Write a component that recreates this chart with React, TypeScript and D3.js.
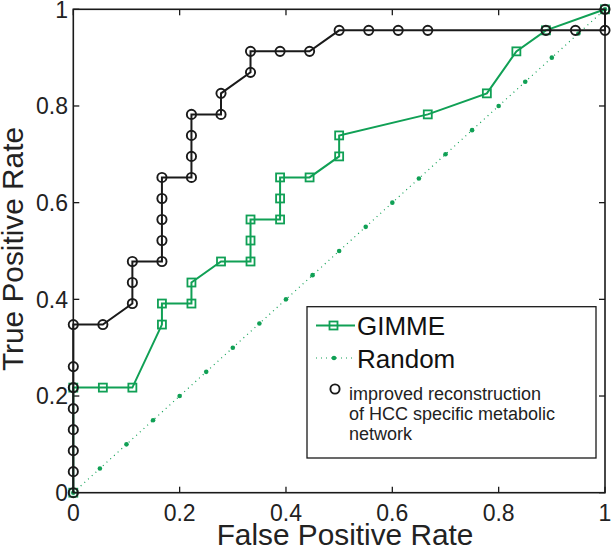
import React from "react";
import * as d3 from "d3";

// ---- Data ----
const improvedFPR = [0, 0, 0, 0, 0, 0, 0, 0, 0.0556, 0.1111, 0.1111, 0.1111, 0.1667, 0.1667, 0.1667, 0.1667, 0.1667, 0.2222, 0.2222, 0.2222, 0.2222, 0.2778, 0.2778, 0.3333, 0.3333, 0.3889, 0.4444, 0.5, 0.5556, 0.6111, 0.6667, 0.8889, 0.9444, 1, 1];
const improvedTPR = [0, 0.0435, 0.087, 0.1304, 0.1739, 0.2174, 0.2609, 0.3478, 0.3478, 0.3913, 0.4348, 0.4783, 0.4783, 0.5217, 0.5652, 0.6087, 0.6522, 0.6522, 0.6957, 0.7391, 0.7826, 0.7826, 0.8261, 0.8696, 0.913, 0.913, 0.913, 0.9565, 0.9565, 0.9565, 0.9565, 0.9565, 0.9565, 0.9565, 1];

const gimmeFPR = [0, 0, 0.0556, 0.1111, 0.1667, 0.1667, 0.2222, 0.2222, 0.2778, 0.3333, 0.3333, 0.3333, 0.3889, 0.3889, 0.3889, 0.4444, 0.5, 0.5, 0.6667, 0.7778, 0.8333, 0.8889, 1];
const gimmeTPR = [0, 0.2174, 0.2174, 0.2174, 0.3478, 0.3913, 0.3913, 0.4348, 0.4783, 0.4783, 0.5217, 0.5652, 0.5652, 0.6087, 0.6522, 0.6522, 0.6957, 0.7391, 0.7826, 0.8261, 0.913, 0.9565, 1];

const randomMarks = [0, 0.05, 0.1, 0.15, 0.2, 0.25, 0.3, 0.35, 0.4, 0.45, 0.5, 0.55, 0.6, 0.65, 0.7, 0.75, 0.8, 0.85, 0.9, 0.95, 1];

const xTicks = [0, 0.2, 0.4, 0.6, 0.8, 1];
const yTicks = [0, 0.2, 0.4, 0.6, 0.8, 1];
const xTickLabels = ["0", "0.2", "0.4", "0.6", "0.8", "1"];
const yTickLabels = ["0", "0.2", "0.4", "0.6", "0.8", "1"];

const GREEN = "#10a055";
const BLACK = "#1a1a1a";
const FONT = "'Liberation Sans', Arial, Helvetica, sans-serif";

export default function App() {
  const W = 613, H = 553;
  const L = 73.3, R = 605, T = 9.3, B = 492.7;
  const x = d3.scaleLinear().domain([0, 1]).range([L, R]);
  const y = d3.scaleLinear().domain([0, 1]).range([B, T]);

  const line = d3.line<[number, number]>().x(d => x(d[0])).y(d => y(d[1]));
  const improvedPts: [number, number][] = improvedFPR.map((v, i) => [v, improvedTPR[i]]);
  const gimmePts: [number, number][] = gimmeFPR.map((v, i) => [v, gimmeTPR[i]]);
  const randomPts: [number, number][] = randomMarks.map(v => [v, v]);

  const sq = 8;
  return (
    <svg width={W} height={H} style={{ position: "absolute", left: 0, top: 0, background: "#fff" }} fontFamily={FONT}>
      <rect x={0} y={0} width={W} height={H} fill="#fff" />
      {/* ticks */}
      {xTicks.map((t, i) => (
        <g key={"xt" + i}>
          <line x1={x(t)} x2={x(t)} y1={B} y2={B - 6} stroke={BLACK} strokeWidth={1.3} />
          <line x1={x(t)} x2={x(t)} y1={T} y2={T + 6} stroke={BLACK} strokeWidth={1.3} />
          <text x={x(t)} y={521} textAnchor="middle" fontSize={23} fill="#222">{xTickLabels[i]}</text>
        </g>
      ))}
      {yTicks.map((t, i) => (
        <g key={"yt" + i}>
          <line x1={L} x2={L + 6} y1={y(t)} y2={y(t)} stroke={BLACK} strokeWidth={1.3} />
          <line x1={R} x2={R - 6} y1={y(t)} y2={y(t)} stroke={BLACK} strokeWidth={1.3} />
          <text x={68} y={y(t) + 8.2} textAnchor="end" fontSize={23} fill="#222">{yTickLabels[i]}</text>
        </g>
      ))}

      {/* GIMME */}
      <path d={line(gimmePts) || ""} fill="none" stroke={GREEN} strokeWidth={2} />
      {gimmePts.map((p, i) => (
        <rect key={"g" + i} x={x(p[0]) - sq / 2} y={y(p[1]) - sq / 2} width={sq} height={sq} fill="none" stroke={GREEN} strokeWidth={1.8} />
      ))}

      {/* Random */}
      <path d={line(randomPts) || ""} fill="none" stroke={GREEN} strokeWidth={1.2} strokeDasharray="1 4" />
      {randomPts.map((p, i) => (
        <circle key={"r" + i} cx={x(p[0])} cy={y(p[1])} r={2.3} fill={GREEN} />
      ))}

      {/* Improved */}
      <path d={line(improvedPts) || ""} fill="none" stroke={BLACK} strokeWidth={2} />
      {improvedPts.map((p, i) => (
        <circle key={"c" + i} cx={x(p[0])} cy={y(p[1])} r={4.6} fill="none" stroke={BLACK} strokeWidth={1.9} />
      ))}

      {/* frame */}
      <rect x={L} y={T} width={R - L} height={B - T} fill="none" stroke={BLACK} strokeWidth={1.6} />

      {/* axis labels */}
      <text x={345} y={545} textAnchor="middle" fontSize={29.8} fill="#222">False Positive Rate</text>
      <text transform={`translate(23, 249) rotate(-90)`} textAnchor="middle" fontSize={29.8} fill="#222">True Positive Rate</text>

      {/* legend */}
      <g>
        <rect x={307} y={306.7} width={289} height={151.3} fill="#fff" stroke={BLACK} strokeWidth={1.3} />
        <line x1={316} x2={355} y1={325.5} y2={325.5} stroke={GREEN} strokeWidth={2} />
        <rect x={333.5 - sq / 2} y={325.5 - sq / 2} width={sq} height={sq} fill="none" stroke={GREEN} strokeWidth={1.8} />
        <text x={357} y={335} fontSize={26} fill="#111">GIMME</text>
        <line x1={316} x2={355} y1={358} y2={358} stroke={GREEN} strokeWidth={1.2} strokeDasharray="1 4" />
        <circle cx={334} cy={358} r={2.3} fill={GREEN} />
        <text x={357} y={368} fontSize={26} fill="#111">Random</text>
        <circle cx={335} cy={389} r={4.6} fill="none" stroke={BLACK} strokeWidth={1.9} />
        <text fontSize={18} fill="#222">
          <tspan x={349} y={400}>improved reconstruction</tspan>
          <tspan x={349} y={420}>of HCC specific metabolic</tspan>
          <tspan x={349} y={440}>network</tspan>
        </text>
      </g>
    </svg>
  );
}
